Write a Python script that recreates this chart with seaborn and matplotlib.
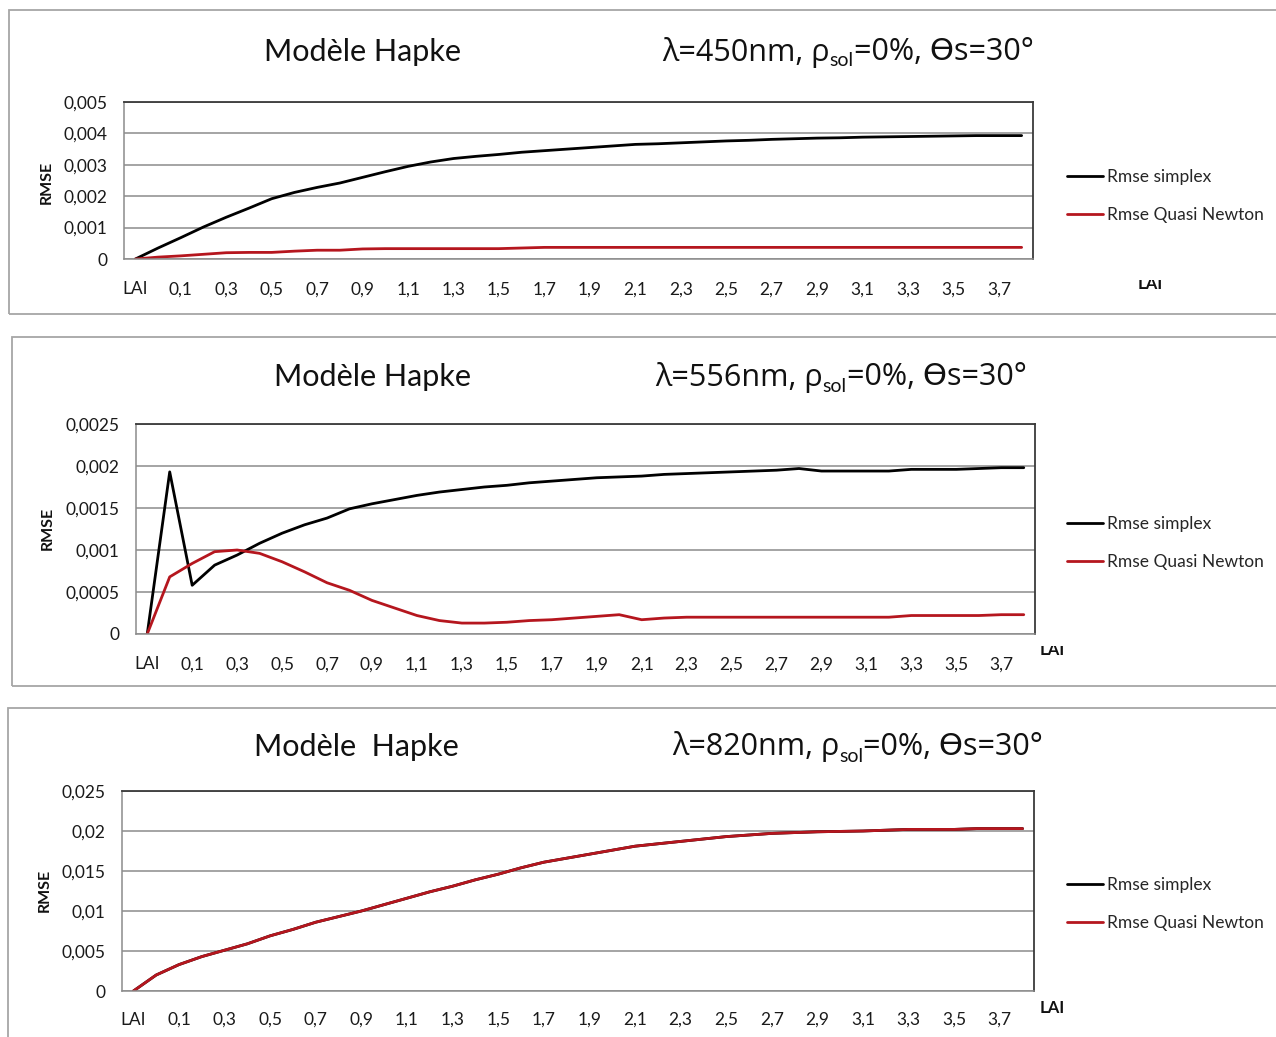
import numpy as np
import pandas as pd
import matplotlib
matplotlib.use("Agg")
import matplotlib.pyplot as plt
import seaborn as sns
from matplotlib.patches import Rectangle
from matplotlib.transforms import Bbox

sns.set_theme(style="white")
plt.rcParams['font.family'] = ['Lato', 'DejaVu Sans']

# ---------------- data ----------------
categories = ["LAI", "0", "0,1", "0,2", "0,3", "0,4", "0,5", "0,6", "0,7", "0,8",
              "0,9", "1", "1,1", "1,2", "1,3", "1,4", "1,5", "1,6", "1,7", "1,8",
              "1,9", "2", "2,1", "2,2", "2,3", "2,4", "2,5", "2,6", "2,7", "2,8",
              "2,9", "3", "3,1", "3,2", "3,3", "3,4", "3,5", "3,6", "3,7", "3,8"]

# panel 1 : lambda = 450 nm (values x 1e-3)
p1_simplex = [0, 0.35, 0.68, 1.02, 1.33, 1.62, 1.92, 2.12, 2.28, 2.42,
              2.60, 2.78, 2.95, 3.09, 3.20, 3.27, 3.33, 3.40, 3.45, 3.50,
              3.55, 3.60, 3.65, 3.67, 3.70, 3.73, 3.76, 3.78, 3.81, 3.83,
              3.85, 3.86, 3.88, 3.89, 3.90, 3.91, 3.92, 3.93, 3.93, 3.93]
p1_newton = [0, 0.06, 0.10, 0.15, 0.20, 0.21, 0.21, 0.25, 0.28, 0.28,
             0.32, 0.33, 0.33, 0.33, 0.33, 0.33, 0.33, 0.35, 0.37, 0.37,
             0.37, 0.37, 0.37, 0.37, 0.37, 0.37, 0.37, 0.37, 0.37, 0.37,
             0.37, 0.37, 0.37, 0.37, 0.37, 0.37, 0.37, 0.37, 0.37, 0.37]

# panel 2 : lambda = 556 nm (values x 1e-3)
p2_simplex = [0, 1.93, 0.58, 0.82, 0.94, 1.08, 1.20, 1.30, 1.38, 1.49,
              1.55, 1.60, 1.65, 1.69, 1.72, 1.75, 1.77, 1.80, 1.82, 1.84,
              1.86, 1.87, 1.88, 1.90, 1.91, 1.92, 1.93, 1.94, 1.95, 1.97,
              1.94, 1.94, 1.94, 1.94, 1.96, 1.96, 1.96, 1.97, 1.98, 1.98]
p2_newton = [0, 0.68, 0.84, 0.98, 1.00, 0.96, 0.86, 0.74, 0.61, 0.52,
             0.40, 0.31, 0.22, 0.16, 0.13, 0.13, 0.14, 0.16, 0.17, 0.19,
             0.21, 0.23, 0.17, 0.19, 0.20, 0.20, 0.20, 0.20, 0.20, 0.20,
             0.20, 0.20, 0.20, 0.20, 0.22, 0.22, 0.22, 0.22, 0.23, 0.23]

# panel 3 : lambda = 820 nm (values x 1e-3)
p3_simplex = [0, 2.0, 3.3, 4.3, 5.1, 5.9, 6.9, 7.7, 8.6, 9.3,
              10.0, 10.8, 11.6, 12.4, 13.1, 13.9, 14.6, 15.4, 16.1, 16.6,
              17.1, 17.6, 18.1, 18.4, 18.7, 19.0, 19.3, 19.5, 19.7, 19.8,
              19.9, 19.95, 20.0, 20.1, 20.2, 20.2, 20.2, 20.3, 20.3, 20.3]
p3_newton = [0, 2.0, 3.3, 4.3, 5.1, 5.9, 6.9, 7.7, 8.6, 9.3,
             10.0, 10.8, 11.6, 12.4, 13.1, 13.9, 14.6, 15.4, 16.1, 16.6,
             17.1, 17.6, 18.1, 18.4, 18.7, 19.0, 19.3, 19.5, 19.7, 19.8,
             19.9, 19.95, 20.0, 20.1, 20.2, 20.2, 20.2, 20.3, 20.3, 20.3]

titles_left = ["Modèle Hapke", "Modèle Hapke", "Modèle  Hapke"]
wavelengths = ["450", "556", "820"]
y_ticks = [[0, 0.001, 0.002, 0.003, 0.004, 0.005],
           [0, 0.0005, 0.001, 0.0015, 0.002, 0.0025],
           [0, 0.005, 0.01, 0.015, 0.02, 0.025]]
y_ticklabels = [["0", "0,001", "0,002", "0,003", "0,004", "0,005"],
                ["0", "0,0005", "0,001", "0,0015", "0,002", "0,0025"],
                ["0", "0,005", "0,01", "0,015", "0,02", "0,025"]]
series_names = ["Rmse simplex", "Rmse Quasi Newton"]
colors = {"Rmse simplex": "#000000", "Rmse Quasi Newton": "#B5161E"}

W, H = 1276, 1037
fig = plt.figure(figsize=(W / 100, H / 100), dpi=100)
fig.patch.set_facecolor("white")

def fx(px):
    return px / W

def fy(py):
    return 1 - py / H

# panel layouts in pixels
panels = [
    dict(box=(9, 10, 1290, 314), ax=(124, 102, 1033, 259), title1=(363, 52), title2=(662, 52),
         ylab=(47, 182), leg=(1065, 196), lai=(1150, 284), lai_clip=280, xpad=16),
    dict(box=(12, 337, 1290, 686), ax=(136, 424, 1035, 634), title1=(373, 377), title2=(655, 377),
         ylab=(48, 528), leg=(1065, 543), lai=(1052, 650), lai_clip=646, xpad=16),
    dict(box=(8, 708, 1290, 1045), ax=(122, 791, 1034, 991), title1=(356, 747), title2=(672, 747),
         ylab=(45, 890), leg=(1065, 904), lai=(1052, 1008), lai_clip=None, xpad=15),
]
data = [(p1_simplex, p1_newton), (p2_simplex, p2_newton), (p3_simplex, p3_newton)]

for k, (pan, (s_vals, n_vals)) in enumerate(zip(panels, data)):
    bx0, by0, bx1, by1 = pan["box"]
    fig.patches.append(Rectangle((fx(bx0), fy(by1)), fx(bx1 - bx0), (by1 - by0) / H,
                                 transform=fig.transFigure, fill=False,
                                 edgecolor="#a6a6a6", lw=1.3, zorder=0))
    x0, y0, x1, y1 = pan["ax"]
    ax = fig.add_axes([fx(x0), fy(y1), fx(x1 - x0), (y1 - y0) / H])
    df = pd.DataFrame({
        "idx": list(range(len(categories))) * 2,
        "rmse": [v * 1e-3 for v in s_vals] + [v * 1e-3 for v in n_vals],
        "serie": [series_names[0]] * len(categories) + [series_names[1]] * len(categories),
    })
    sns.lineplot(data=df, x="idx", y="rmse", hue="serie", palette=colors,
                 hue_order=series_names, lw=2.0, ax=ax, legend=True)
    ax.set_xlim(-0.5, len(categories) - 0.5)
    ax.set_ylim(y_ticks[k][0], y_ticks[k][-1])
    ax.set_yticks(y_ticks[k])
    ax.set_yticklabels(y_ticklabels[k], fontsize=12.5, color="#1a1a1a")
    ax.set_xticks(list(range(0, len(categories), 2)))
    ax.set_xticklabels(categories[0::2], fontsize=12.5, color="#1a1a1a")
    ax.tick_params(axis="y", length=0, pad=12)
    ax.tick_params(axis="x", length=0, pad=pan["xpad"])
    ax.set_xlabel("")
    ax.set_ylabel("")
    ax.yaxis.grid(True, color="#8c8c8c", lw=1.1)
    ax.set_axisbelow(True)
    for side in ["top", "right"]:
        ax.spines[side].set_color("#3a3a3a")
        ax.spines[side].set_linewidth(1.3)
    for side in ["left", "bottom"]:
        ax.spines[side].set_color("#8c8c8c")
        ax.spines[side].set_linewidth(1.1)

    # legend
    handles, labels = ax.get_legend_handles_labels()
    ax.legend(handles, labels, loc="center left",
              bbox_to_anchor=(fx(pan["leg"][0]) - 0.011, fy(pan["leg"][1])),
              bbox_transform=fig.transFigure, frameon=False, fontsize=12.5,
              handlelength=2.1, handletextpad=0.2, labelspacing=1.25)

    # titles
    fig.text(fx(pan["title1"][0]), fy(pan["title1"][1]), titles_left[k],
             fontsize=22, ha="center", va="center", color="#111111")
    t1 = fig.text(fx(pan["title2"][0]), fy(pan["title2"][1]),
                  "λ=" + wavelengths[k] + "nm, ρ",
                  fontsize=22, ha="left", va="center", color="#111111",
                  family=["Open Sans", "DejaVu Sans"])
    fig.canvas.draw()
    r = fig.canvas.get_renderer()
    bb = t1.get_window_extent(r)
    t2 = fig.text(bb.x1 / W, fy(pan["title2"][1] + 9), "sol", fontsize=14,
                  ha="left", va="center", color="#111111")
    fig.canvas.draw()
    bb2 = t2.get_window_extent(r)
    fig.text(bb2.x1 / W, fy(pan["title2"][1]), "=0%, ϴs=30°",
             fontsize=22, ha="left", va="center", color="#111111",
             family=["Open Sans", "DejaVu Sans"])

    # y label
    fig.text(fx(pan["ylab"][0]), fy(pan["ylab"][1]), "RMSE", rotation=90,
             fontsize=11.5, fontweight="bold", ha="center", va="center", color="#111111")

    # x axis title "LAI" (partially hidden in first two panels)
    tl = fig.text(fx(pan["lai"][0]), fy(pan["lai"][1]), "LAI", fontsize=12,
                  fontweight="bold", ha="center", va="center", color="#111111")
    if pan["lai_clip"] is not None:
        cy = H - pan["lai_clip"]
        tl.set_clip_box(Bbox.from_extents(0, 0, W, cy))
        tl.set_clip_on(True)

fig.savefig("out.png", dpi=100, facecolor="white")
